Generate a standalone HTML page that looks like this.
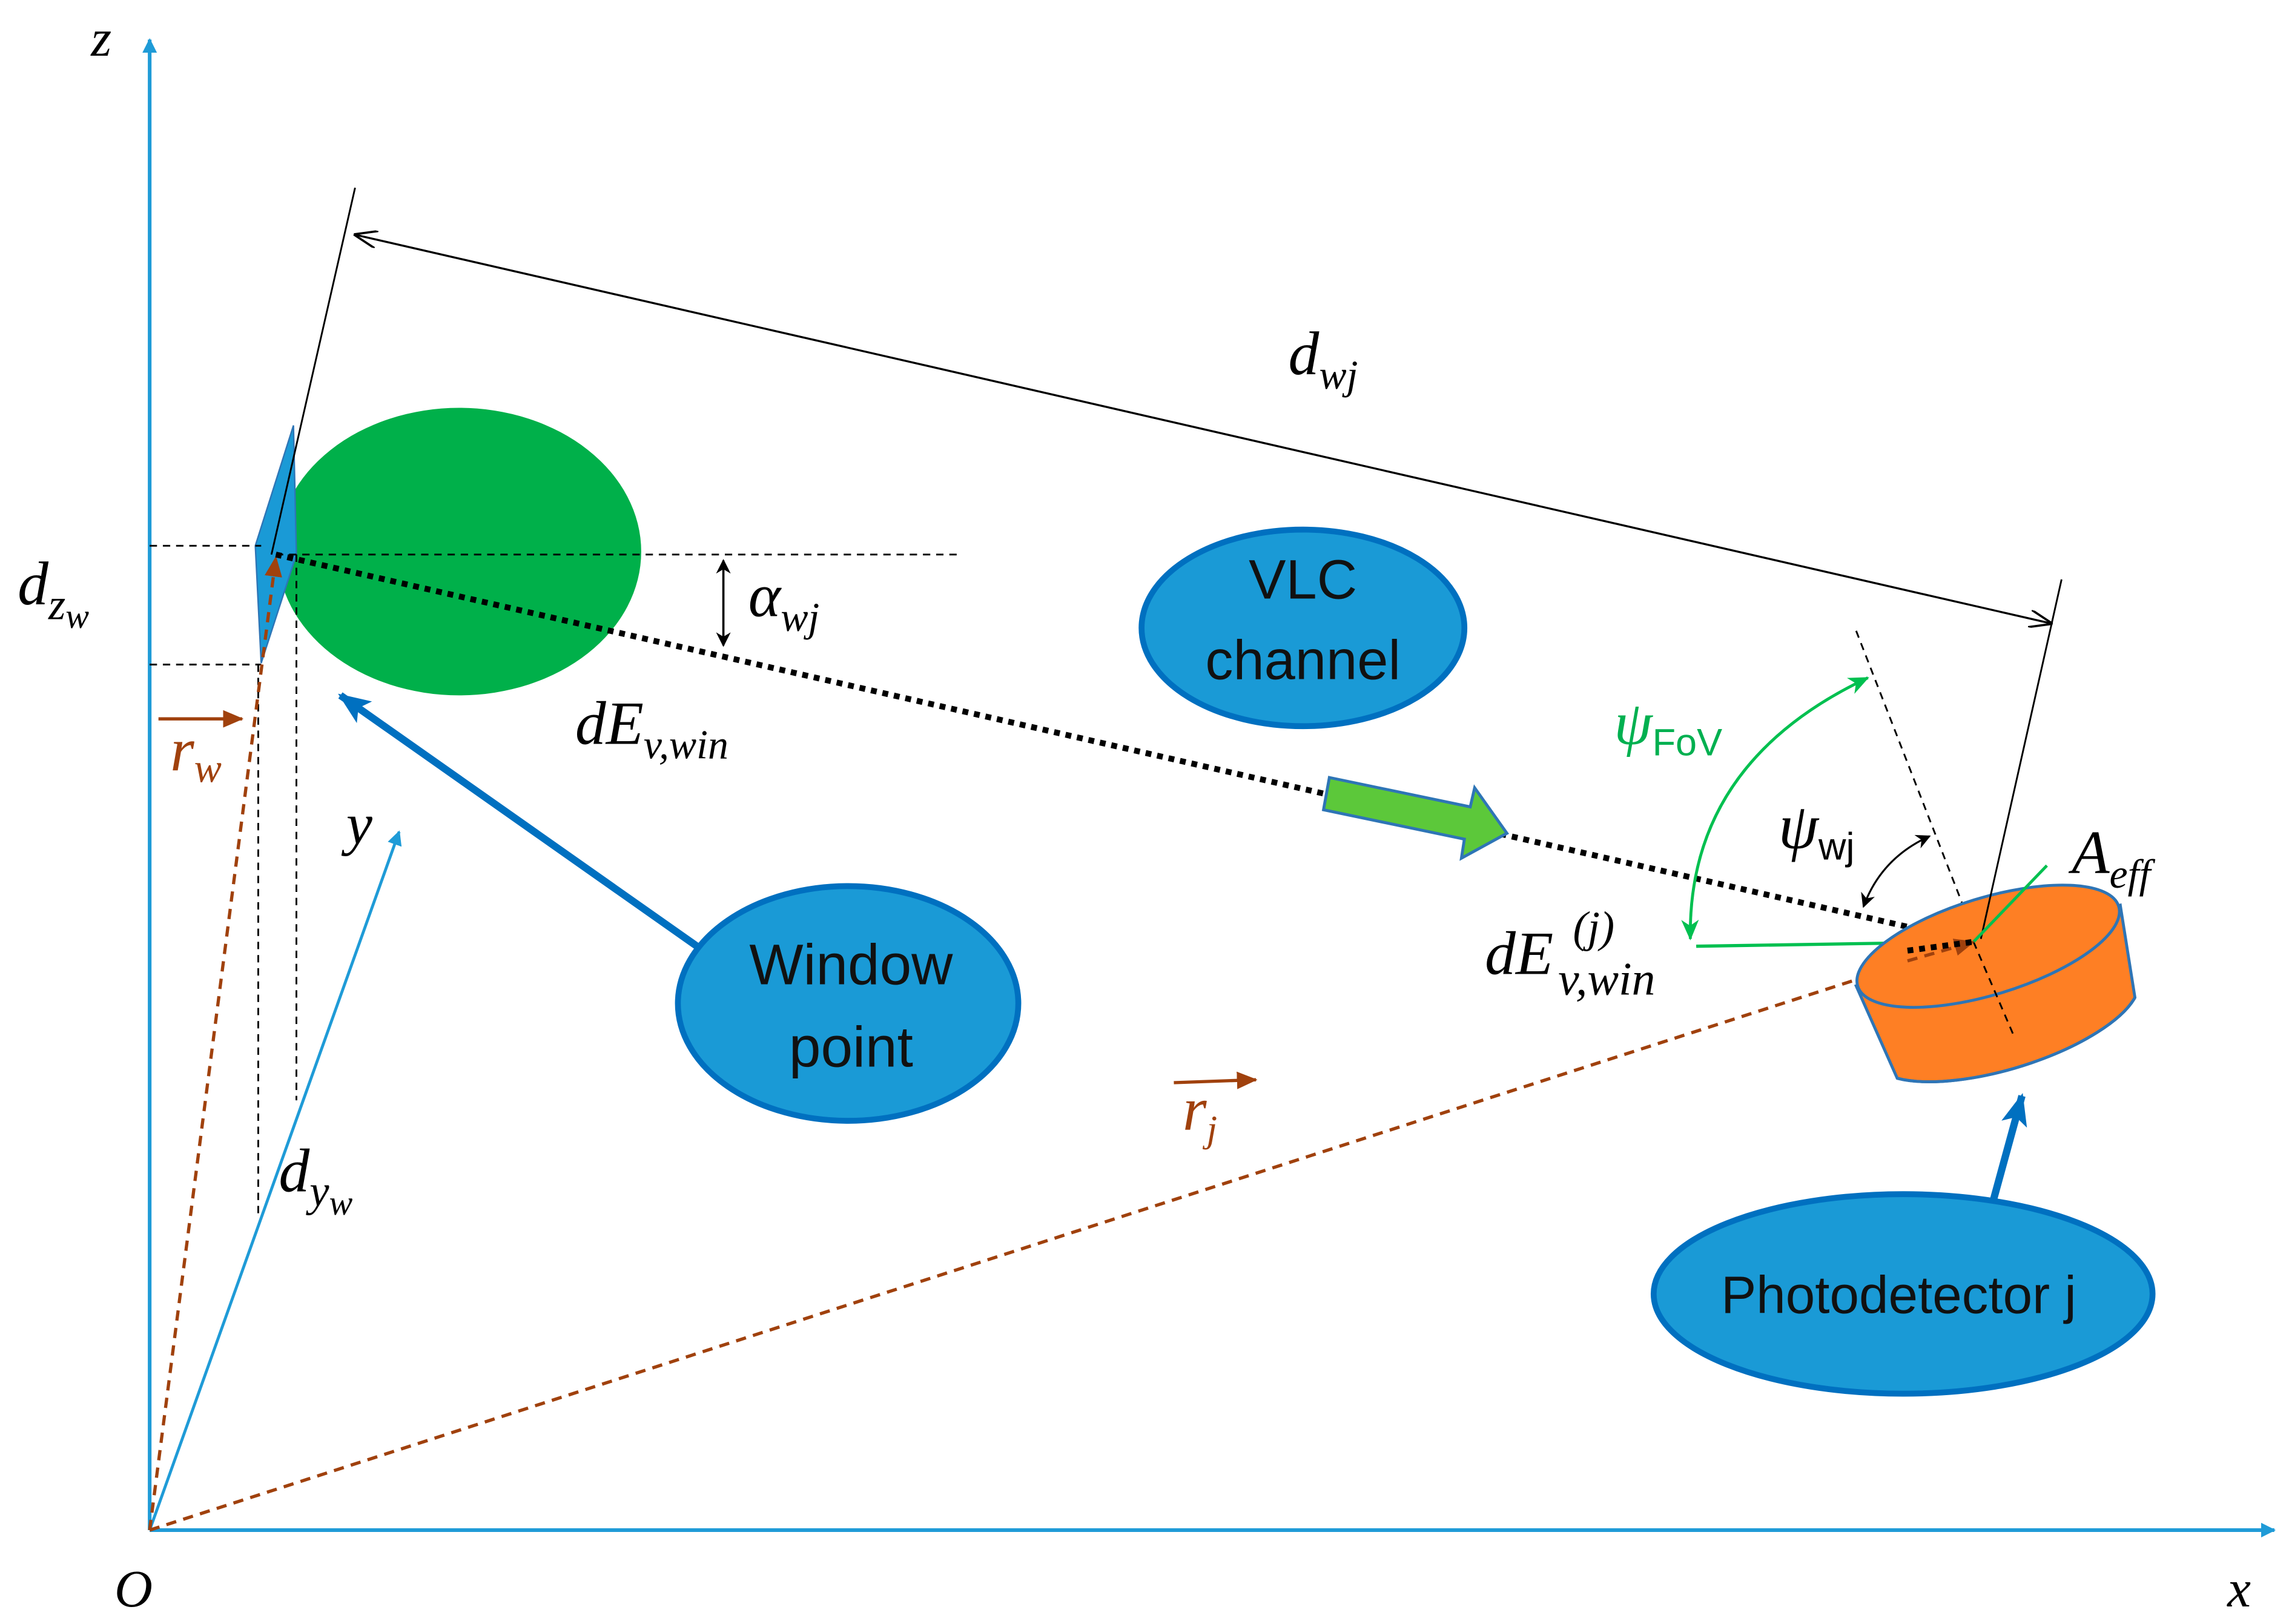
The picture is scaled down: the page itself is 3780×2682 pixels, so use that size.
<!DOCTYPE html>
<html><head><meta charset="utf-8"><style>
html,body{margin:0;padding:0;background:#fff;}
svg{display:block;}
text{font-family:"Liberation Serif",serif;font-style:italic;}
.s{font-family:"Liberation Sans","DejaVu Sans",sans-serif;font-style:normal;}
</style></head><body>
<svg width="3780" height="2682" viewBox="0 0 1560 1107" preserveAspectRatio="none" xmlns="http://www.w3.org/2000/svg">
<defs>
<marker id="ab" markerWidth="10" markerHeight="10" refX="9" refY="5" orient="auto" markerUnits="userSpaceOnUse"><path d="M0,0 L10,5 L0,10 Z" fill="#1f9bd7"/></marker>
<marker id="ak" markerWidth="16" markerHeight="12" refX="15" refY="6" orient="auto" markerUnits="userSpaceOnUse"><path d="M0,0 L16,6 L0,12" fill="none" stroke="#000" stroke-width="1.5"/></marker>
<marker id="ak2" markerWidth="10" markerHeight="10" refX="9" refY="5" orient="auto-start-reverse" markerUnits="userSpaceOnUse"><path d="M0,0 L10,5 L0,10 L3,5Z" fill="#000"/></marker>
<marker id="ag" markerWidth="14" markerHeight="12" refX="13" refY="6" orient="auto-start-reverse" markerUnits="userSpaceOnUse"><path d="M0,0 L14,6 L0,12 L4,6Z" fill="#00c050"/></marker>
<marker id="abr" markerWidth="14" markerHeight="12" refX="13" refY="6" orient="auto" markerUnits="userSpaceOnUse"><path d="M0,0 L14,6 L0,12 Z" fill="#a0410d"/></marker>
<marker id="abl" markerWidth="22" markerHeight="18" refX="20" refY="9" orient="auto" markerUnits="userSpaceOnUse"><path d="M0,0 L22,9 L0,18 L5,9Z" fill="#0070c0"/></marker>
</defs>
<line x1="102" y1="1043" x2="102" y2="27" stroke="#1f9bd7" stroke-width="2.5" marker-end="url(#ab)"/>
<line x1="102" y1="1043" x2="1550" y2="1043" stroke="#1f9bd7" stroke-width="2.5" marker-end="url(#ab)"/>
<line x1="102" y1="1043" x2="272" y2="567" stroke="#1f9bd7" stroke-width="2" marker-end="url(#ab)"/>
<text x="62" y="38" font-size="36">z</text>
<text x="1518" y="1095" font-size="36">x</text>
<text x="78" y="1095" font-size="36">O</text>
<text x="236" y="575" font-size="40">y</text>
<ellipse cx="313" cy="376" rx="124" ry="98" fill="#00b04a"/>
<polygon points="174,372 200,290 202,378 178,452" fill="#1a9ad6" stroke="#2e75b6" stroke-width="1"/>
<g stroke="#000" stroke-width="1.2" stroke-dasharray="5,4" fill="none">
<line x1="102" y1="372" x2="178" y2="372"/>
<line x1="188" y1="378" x2="655" y2="378"/>
<line x1="102" y1="453" x2="178" y2="453"/>
<line x1="176" y1="453" x2="176" y2="830"/>
<line x1="202" y1="378" x2="202" y2="750"/>
<line x1="1265" y1="430" x2="1372" y2="705"/>
</g>
<text x="12" y="412" font-size="42">d<tspan font-size="30" dy="10">z</tspan><tspan font-size="24" dy="6">w</tspan></text>
<g stroke="#a0410d" stroke-width="2.2" stroke-dasharray="7,5" fill="none">
<line x1="102" y1="1043" x2="188" y2="380" marker-end="url(#abr)"/>
<line x1="102" y1="1043" x2="1345" y2="642" marker-end="url(#abr)"/>
</g>
<line x1="108" y1="490" x2="165" y2="490" stroke="#a0410d" stroke-width="2.2" marker-end="url(#abr)"/>
<text x="116" y="525" font-size="42" fill="#a0410d">r<tspan font-size="28" dy="8">w</tspan></text>
<line x1="800" y1="738" x2="856" y2="736" stroke="#a0410d" stroke-width="2.2" marker-end="url(#abr)"/>
<text x="806" y="770" font-size="42" fill="#a0410d">r<tspan font-size="26" dy="8">j</tspan></text>
<line x1="185" y1="378" x2="242" y2="128" stroke="#000" stroke-width="1.2"/>
<line x1="1398" y1="425" x2="242" y2="160" stroke="#000" stroke-width="1.3" marker-end="url(#ak)"/>
<line x1="242" y1="160" x2="1398" y2="425" stroke="#000" stroke-width="1.3" marker-end="url(#ak)"/>
<text x="878" y="255" font-size="42">d<tspan font-size="28" dy="10">wj</tspan></text>
<line x1="188" y1="378" x2="1345" y2="642" stroke="#000" stroke-width="4" stroke-dasharray="4,4"/>
<line x1="493" y1="382" x2="493" y2="440" stroke="#000" stroke-width="1.5" marker-start="url(#ak2)" marker-end="url(#ak2)"/>
<text x="510" y="420" font-size="42">α<tspan font-size="28" dy="10">wj</tspan></text>
<text x="392" y="507" font-size="42">dE<tspan font-size="28" dy="10">v,win</tspan></text>
<ellipse cx="888" cy="428" rx="110" ry="67" fill="#1a9ad6" stroke="#0070c0" stroke-width="4"/>
<text class="s" x="888" y="408" font-size="38" text-anchor="middle" fill="#111">VLC</text>
<text class="s" x="888" y="463" font-size="38" text-anchor="middle" fill="#111">channel</text>
<line x1="475" y1="645" x2="232" y2="474" stroke="#0070c0" stroke-width="5" marker-end="url(#abl)"/>
<ellipse cx="578" cy="684" rx="116" ry="80" fill="#1a9ad6" stroke="#0070c0" stroke-width="4"/>
<text class="s" x="580" y="671" font-size="39" text-anchor="middle" fill="#111">Window</text>
<text class="s" x="580" y="727" font-size="39" text-anchor="middle" fill="#111">point</text>
<polygon points="906,530 1002,550 1005,537 1027,568 996,585 998,572 902,552" fill="#5cc83a" stroke="#2e75b6" stroke-width="2"/>
<path d="M1152,640 Q1150,520 1273,462" fill="none" stroke="#00c050" stroke-width="2" marker-start="url(#ag)" marker-end="url(#ag)"/>
<line x1="1156" y1="645" x2="1345" y2="642" stroke="#00c050" stroke-width="2.2"/>
<text x="1100" y="507" font-size="42" fill="#00b050">ψ<tspan class="s" font-size="26" dy="8" fill="#00b050">FoV</tspan></text>
<path d="M1270,618 Q1282,585 1315,570" fill="none" stroke="#000" stroke-width="1.3" marker-start="url(#ak2)" marker-end="url(#ak2)"/>
<text x="1212" y="578" font-size="44">ψ<tspan class="s" font-size="26" dy="8">wj</tspan></text>
<path d="M1265,672 L1293,735 A95,34 -17 0 0 1455,680 L1445,617 Z" fill="#fe7f24" stroke="#2e75b6" stroke-width="2"/>
<path d="M1293,735 A95,34 -17 0 0 1455,680" fill="none" stroke="#2e75b6" stroke-width="2"/>
<ellipse cx="1355" cy="645" rx="93" ry="33" transform="rotate(-17 1355 645)" fill="#fe7f24" stroke="#2e75b6" stroke-width="2"/>
<line x1="1345" y1="642" x2="1372" y2="705" stroke="#000" stroke-width="1.2" stroke-dasharray="5,4"/>
<line x1="1350" y1="640" x2="1405" y2="395" stroke="#000" stroke-width="1.2"/>
<line x1="1345" y1="642" x2="1395" y2="590" stroke="#00c050" stroke-width="2"/>
<line x1="1300" y1="655" x2="1345" y2="642" stroke="#a0410d" stroke-width="2.2" stroke-dasharray="7,5" marker-end="url(#abr)"/>
<line x1="1300" y1="648" x2="1345" y2="642" stroke="#000" stroke-width="4" stroke-dasharray="4,4"/>
<text x="1412" y="595" font-size="42">A<tspan font-size="28" dy="10">eff</tspan></text>
<text x="1012" y="664" font-size="42">dE</text>
<text x="1072" y="642" font-size="30">(j)</text>
<text x="1062" y="678" font-size="32">v,win</text>
<line x1="1358" y1="820" x2="1378" y2="747" stroke="#0070c0" stroke-width="5" marker-end="url(#abl)"/>
<ellipse cx="1297" cy="882" rx="170" ry="68" fill="#1a9ad6" stroke="#0070c0" stroke-width="4"/>
<text class="s" x="1294" y="895" font-size="36" text-anchor="middle" fill="#111">Photodetector j</text>
<text x="190" y="812" font-size="42">d<tspan font-size="30" dy="10">y</tspan><tspan font-size="24" dy="6">w</tspan></text>
</svg>
</body></html>
